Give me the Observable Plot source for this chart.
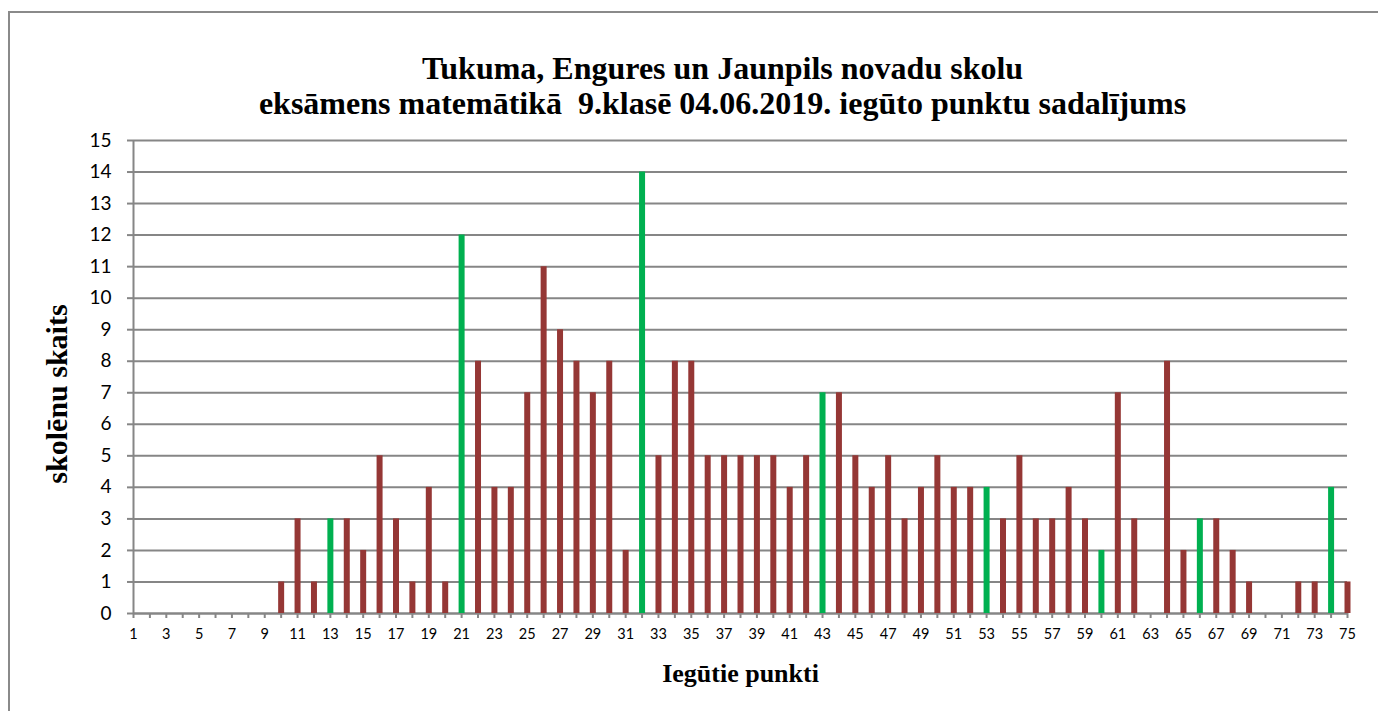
<!DOCTYPE html>
<html>
<head>
<meta charset="utf-8">
<script src="https://cdn.jsdelivr.net/npm/d3@7"></script>
<script src="https://cdn.jsdelivr.net/npm/@observablehq/plot@0.6"></script>
<style>
  html, body { margin: 0; padding: 0; background: #fff; }
  #wrap { position: relative; width: 1378px; height: 711px; overflow: hidden; background: #fff; }
  #border { position: absolute; left: 8px; top: 11px; width: 1420px; height: 800px; border: 2px solid #8a8a8a; box-sizing: border-box; }
  #chart { position: absolute; left: 0; top: 0; }
</style>
</head>
<body>
<div id="wrap"><div id="border"></div><div id="chart"></div></div>
<script>
const scores = [1,2,3,4,5,6,7,8,9,10,11,12,13,14,15,16,17,18,19,20,21,22,23,24,25,26,27,28,29,30,31,32,33,34,35,36,37,38,39,40,41,42,43,44,45,46,47,48,49,50,51,52,53,54,55,56,57,58,59,60,61,62,63,64,65,66,67,68,69,70,71,72,73,74,75];
const counts = [0,0,0,0,0,0,0,0,0,1,3,1,3,3,2,5,3,1,4,1,12,8,4,4,7,11,9,8,7,8,2,14,5,8,8,5,5,5,5,5,4,5,7,7,5,4,5,3,4,5,4,4,4,3,5,3,3,4,3,2,7,3,0,8,2,3,3,2,1,0,0,1,1,4,1];
const highlighted = [13,21,32,43,53,60,66,74];
const yTicks = [0,1,2,3,4,5,6,7,8,9,10,11,12,13,14,15];
const titleLine1 = "Tukuma, Engures un Jaunpils novadu skolu";
const titleLine2 = "eksāmens matemātikā  9.klasē 04.06.2019. iegūto punktu sadalījums";
const yLabel = "skolēnu skaits";
const xLabel = "Iegūtie punkti";

const brown = "#953735";
const green = "#00b050";
const gray = "#868686";

const data = scores.map((s, i) => ({score: s, count: counts[i], color: highlighted.includes(s) ? green : brown}))
  .filter(d => d.count > 0);

const serif = "'Liberation Serif', 'Times New Roman', serif";

const chart = Plot.plot({
  width: 1378,
  height: 711,
  marginLeft: 133,
  marginRight: 31,
  marginTop: 140,
  marginBottom: 98,
  style: {fontFamily: "Lato, 'Open Sans', sans-serif", background: "transparent", color: "#000"},
  x: {type: "linear", domain: [1, 75]},
  y: {domain: [0, 15]},
  color: {type: "identity"},
  marks: [
    Plot.gridY(yTicks, {stroke: gray, strokeOpacity: 1, strokeWidth: 2}),
    Plot.axisY(yTicks, {tickSize: 6, tickPadding: 16, fontSize: 19, stroke: gray, strokeWidth: 2, fill: "#000", label: null}),
    Plot.ruleX([1], {stroke: gray, strokeWidth: 2}),
    Plot.axisX(scores, {tickSize: 5, tickPadding: 10, fontSize: 14.5, stroke: gray, strokeWidth: 2, fill: "#000", label: null,
      tickFormat: d => (d % 2 === 1 ? String(d) : "")}),
    Plot.ruleY([0], {stroke: gray, strokeWidth: 2}),
    Plot.ruleX(data, {x: "score", y1: 0, y2: "count", stroke: "color", strokeWidth: 6}),
    Plot.text([titleLine1], {frameAnchor: "top", lineAnchor: "middle", dx: -18, dy: -72, fontSize: 32, fontWeight: "bold", fontFamily: serif, fill: "#000"}),
    Plot.text([titleLine2], {frameAnchor: "top", lineAnchor: "middle", dx: -18, dy: -37, fontSize: 32, fontWeight: "bold", fontFamily: serif, fill: "#000"}),
    Plot.text([yLabel], {frameAnchor: "left", textAnchor: "middle", lineAnchor: "middle", rotate: -90, dx: -76, dy: 17, fontSize: 30, fontWeight: "bold", fontFamily: serif, fill: "#000"}),
    Plot.text([xLabel], {frameAnchor: "bottom", lineAnchor: "middle", dy: 60, fontSize: 26, fontWeight: "bold", fontFamily: serif, fill: "#000"})
  ]
});
document.getElementById("chart").appendChild(chart);
</script>
</body>
</html>
